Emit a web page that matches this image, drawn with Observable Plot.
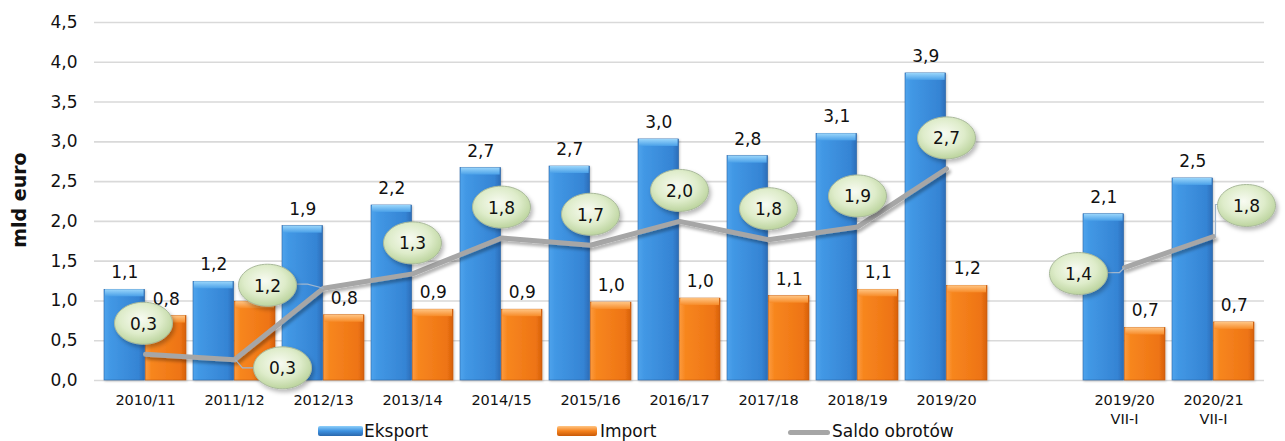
<!DOCTYPE html>
<html>
<head>
<meta charset="utf-8">
<script src="https://cdn.jsdelivr.net/npm/d3@7"></script>
<script src="https://cdn.jsdelivr.net/npm/@observablehq/plot@0.6"></script>
<style>
  body { margin: 0; background: #fff; font-family: "DejaVu Sans", sans-serif; }
  #wrap { position: relative; width: 1285px; height: 441px; overflow: hidden; }
  .lg { position: absolute; font-size: 17px; line-height: 20px; color: #111; white-space: nowrap; }
  .sw { position: absolute; }
  #ytitle { position: absolute; left: 19px; top: 200px; transform: translate(-50%, -50%) rotate(-90deg);
    font-size: 19px; font-weight: bold; color: #111; white-space: nowrap; line-height: 20px; }
</style>
</head>
<body>
<svg width="0" height="0" style="position:absolute">
  <defs>
    <linearGradient id="gBlue" x1="0" x2="1" y1="0" y2="0">
      <stop offset="0" stop-color="#4ea3ec"/>
      <stop offset="0.15" stop-color="#4298e5"/>
      <stop offset="0.85" stop-color="#3584d4"/>
      <stop offset="1" stop-color="#2c6db8"/>
    </linearGradient>
    <linearGradient id="gBlueTop" x1="0" x2="0" y1="0" y2="1">
      <stop offset="0" stop-color="#9ad6fb"/>
      <stop offset="1" stop-color="#4aa0e8"/>
    </linearGradient>
    <linearGradient id="gOrange" x1="0" x2="1" y1="0" y2="0">
      <stop offset="0" stop-color="#fc9a3c"/>
      <stop offset="0.15" stop-color="#f7861f"/>
      <stop offset="0.85" stop-color="#ee7414"/>
      <stop offset="1" stop-color="#d6600b"/>
    </linearGradient>
    <linearGradient id="gOrangeTop" x1="0" x2="0" y1="0" y2="1">
      <stop offset="0" stop-color="#ffc584"/>
      <stop offset="1" stop-color="#f78b28"/>
    </linearGradient>
    <radialGradient id="gBubble" cx="0.45" cy="0.4" r="0.65">
      <stop offset="0" stop-color="#f8fbf2"/>
      <stop offset="0.55" stop-color="#deecca"/>
      <stop offset="1" stop-color="#b5cf95"/>
    </radialGradient>
    <filter id="shLine" filterUnits="userSpaceOnUse" x="-100" y="-100" width="1500" height="700">
      <feDropShadow dx="2" dy="3" stdDeviation="1.5" flood-color="#000" flood-opacity="0.3"/>
    </filter>
    <filter id="shBubble" filterUnits="userSpaceOnUse" x="-100" y="-100" width="1500" height="700">
      <feDropShadow dx="2" dy="3" stdDeviation="2" flood-color="#000" flood-opacity="0.28"/>
    </filter>
    <filter id="shBar" filterUnits="userSpaceOnUse" x="-100" y="-100" width="1500" height="700">
      <feDropShadow dx="1" dy="1" stdDeviation="0.8" flood-color="#000" flood-opacity="0.22"/>
    </filter>
  </defs>
</svg>
<div id="wrap">
  <div id="chart"></div>
  <div id="ytitle">mld euro</div>
  <div class="sw" style="left:318px;top:426px;width:45px;height:10px;border-radius:2px;background:linear-gradient(#8fd0fa,#3d91e0 50%,#2a68ad);"></div>
  <div class="lg" style="left:364px;top:421px;">Eksport</div>
  <div class="sw" style="left:557px;top:426px;width:40px;height:10px;border-radius:2px;background:linear-gradient(#ffc584,#f5821d 50%,#c95a08);"></div>
  <div class="lg" style="left:600px;top:421px;">Import</div>
  <div class="sw" style="left:788px;top:430px;width:42px;height:5px;border-radius:3px;background:#a6a6a6;"></div>
  <div class="lg" style="left:832px;top:421px;">Saldo obrotów</div>
</div>
<script>
// ---- data ----
const categories = ["2010/11", "2011/12", "2012/13", "2013/14", "2014/15", "2015/16",
  "2016/17", "2017/18", "2018/19", "2019/20", "2019/20\nVII-I", "2020/21\nVII-I"];
const eksport = [1.14, 1.24, 1.94, 2.20, 2.67, 2.69, 3.03, 2.82, 3.10, 3.86, 2.09, 2.54];
const importVals = [0.81, 0.99, 0.82, 0.89, 0.89, 0.98, 1.03, 1.06, 1.14, 1.19, 0.66, 0.73];
const saldo = [0.33, 0.26, 1.16, 1.34, 1.79, 1.70, 2.00, 1.77, 1.93, 2.66, 1.42, 1.81];
const period = ["rok", "rok", "rok", "rok", "rok", "rok", "rok", "rok", "rok", "rok", "VII-I", "VII-I"];
const yTicks = [0, 0.5, 1, 1.5, 2, 2.5, 3, 3.5, 4, 4.5];
// import value label that the reference hides behind a bubble
const hiddenImportLabels = ["2011/12"];

// ---- layout ----
const W = 1285, H = 441, mL = 94, mR = 21, mT = 22, mB = 61;
const GAP = "__gap__";
const xDomain = [...categories.slice(0, 10), GAP, ...categories.slice(10)];
const pad = 0.08;
const step = (W - mL - mR) / xDomain.length;
const bw = step * (1 - pad);
const half = bw / 2;
const fmt = v => v.toFixed(1).replace(".", ",");

// bubble label placement (pixel offsets from the saldo point) and leader polylines
const defaultShift = [0, -31];
const bubbleShift = {
  "2010/11": [-2, -31],
  "2011/12": [48, 8],
  "2012/13": [-56, -3],
  "2019/20\nVII-I": [-46, 6],
  "2020/21\nVII-I": [33, -31]
};
const leaders = {
  "2011/12": [[1, 0], [8, 8], [20, 8]],
  "2012/13": [[-27, -4], [-16, -4], [0, 0]],
  "2019/20\nVII-I": [[-17, 5], [-5, 5], [0, 0]],
  "2020/21\nVII-I": [[2, 0], [2, -32], [6, -32]]
};

const rows = categories.map((c, i) => ({
  cat: c, eksport: eksport[i], imp: importVals[i], saldo: saldo[i], period: period[i]
}));

function ellipseSymbol(cx, cy, a, b) {
  const k = 0.5523;
  return {
    draw(ctx) {
      ctx.moveTo(cx + a, cy);
      ctx.bezierCurveTo(cx + a, cy + k * b, cx + k * a, cy + b, cx, cy + b);
      ctx.bezierCurveTo(cx - k * a, cy + b, cx - a, cy + k * b, cx - a, cy);
      ctx.bezierCurveTo(cx - a, cy - k * b, cx - k * a, cy - b, cx, cy - b);
      ctx.bezierCurveTo(cx + k * a, cy - b, cx + a, cy - k * b, cx + a, cy);
      ctx.closePath();
    }
  };
}
function polySymbol(pts) {
  return {
    draw(ctx) {
      ctx.moveTo(pts[0][0], pts[0][1]);
      for (let j = 1; j < pts.length; ++j) ctx.lineTo(pts[j][0], pts[j][1]);
    }
  };
}

const bubbleMarks = [];
rows.forEach(r => {
  const [dx, dy] = bubbleShift[r.cat] || defaultShift;
  if (leaders[r.cat]) {
    bubbleMarks.push(Plot.dot([r], {
      x: "cat", y: "saldo", symbol: polySymbol(leaders[r.cat]),
      fill: "none", stroke: "#9fb6cf", strokeWidth: 1.2
    }));
  }
  bubbleMarks.push(Plot.dot([r], {
    x: "cat", y: "saldo", symbol: ellipseSymbol(dx, dy, 29, 21),
    fill: "url(#gBubble)", stroke: "#a9b99b", strokeWidth: 1, className: "bubble"
  }));
  bubbleMarks.push(Plot.text([r], {
    x: "cat", y: "saldo", text: d => fmt(d.saldo), dx, dy: dy + 1,
    fontSize: 17, fill: "#111"
  }));
});

const chart = Plot.plot({
  width: W, height: H,
  marginLeft: mL, marginRight: mR, marginTop: mT, marginBottom: mB,
  style: { fontFamily: "DejaVu Sans, sans-serif", color: "#111", background: "white", overflow: "visible" },
  x: { domain: xDomain, padding: pad, align: 0.5, label: null },
  y: { domain: [0, 4.5], label: null },
  marks: [
    Plot.gridY(yTicks, { stroke: "#d9d9d9", strokeOpacity: 1, strokeWidth: 1.6 }),
    Plot.axisY(yTicks, { tickSize: 0, tickPadding: 17, fontSize: 17, tickFormat: fmt, label: null }),
    Plot.axisX({ tickSize: 0, tickPadding: 11, fontSize: 14.5, lineHeight: 1.32,
      tickFormat: d => d === GAP ? "" : d, label: null }),
    Plot.barY(rows, { x: "cat", y: "eksport", insetRight: half, fill: "url(#gBlue)",
      stroke: "#2a64a5", strokeWidth: 0.6, className: "bars" }),
    Plot.barY(rows, { x: "cat", y: "imp", insetLeft: half, fill: "url(#gOrange)",
      stroke: "#c25808", strokeWidth: 0.6, className: "bars" }),
    Plot.barY(rows, { x: "cat", y1: "eksport", y2: "eksport", insetRight: half + 1, insetLeft: 1,
      insetBottom: -7, fill: "url(#gBlueTop)" }),
    Plot.barY(rows, { x: "cat", y1: "imp", y2: "imp", insetLeft: half + 1, insetRight: 1,
      insetBottom: -7, fill: "url(#gOrangeTop)" }),
    Plot.text(rows, { x: "cat", y: "eksport", text: d => fmt(d.eksport), dx: -bw / 4, dy: -17,
      fontSize: 17, fill: "#111" }),
    Plot.text(rows.filter(d => !hiddenImportLabels.includes(d.cat)), { x: "cat", y: "imp",
      text: d => fmt(d.imp), dx: bw / 4, dy: -17, fontSize: 17, fill: "#111" }),
    Plot.line(rows, { x: "cat", y: "saldo", z: "period", stroke: "#a6a6a6", strokeWidth: 5,
      className: "saldo" }),
    ...bubbleMarks
  ]
});
const sel = d3.select(chart);
sel.selectAll("g.saldo").attr("filter", "url(#shLine)");
sel.selectAll("g.bubble").attr("filter", "url(#shBubble)");
sel.selectAll("g.bars").attr("filter", "url(#shBar)");
document.getElementById("chart").appendChild(chart);
</script>
</body>
</html>
